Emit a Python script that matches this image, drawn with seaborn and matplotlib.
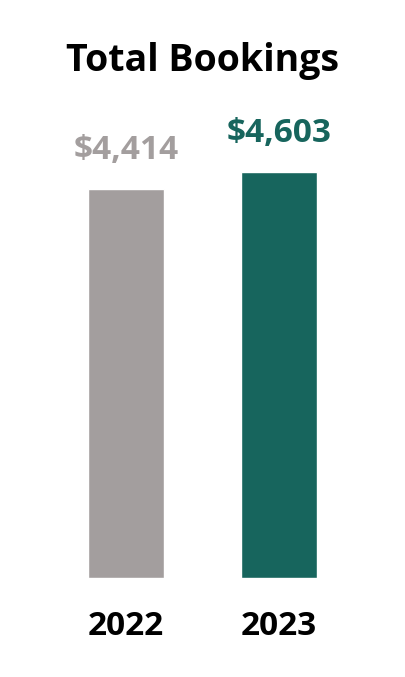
import matplotlib
matplotlib.use("Agg")
import matplotlib.pyplot as plt
import seaborn as sns
import pandas as pd

years = ["2022", "2023"]
bookings = [4414, 4603]
value_labels = ["$4,414", "$4,603"]
colors = ["#A39E9E", "#17655D"]

sns.set_theme(style="white")
plt.rcParams["font.family"] = ["Open Sans", "DejaVu Sans"]

W, H = 405, 677
fig = plt.figure(figsize=(W / 100, H / 100), dpi=100)
# axes in pixel coords: x from 3.6 to 401.4, y bottom at 578, top at 100
ax = fig.add_axes([3.6 / W, (H - 578) / H, (401.4 - 3.6) / W, (578 - 100) / H])

df = pd.DataFrame({"year": years, "bookings": bookings})
sns.barplot(data=df, x="year", y="bookings", hue="year", palette=colors,
            width=0.497, legend=False, ax=ax, saturation=1)

ax.set_xlim(-0.8, 1.8)
ax.set_ylim(0, 4603 * 478 / 406)
for i, (v, lab) in enumerate(zip(bookings, value_labels)):
    ax.annotate(lab, (i, v), xytext=(0, 22), textcoords="offset pixels",
                ha="center", va="bottom", fontsize=24, fontweight="bold",
                color=colors[i])

ax.set_xlabel("")
ax.set_ylabel("")
ax.set_yticks([])
ax.tick_params(axis="x", length=0, pad=23, labelsize=24)
for t in ax.get_xticklabels():
    t.set_fontweight("bold")
    t.set_color("black")
for s in ax.spines.values():
    s.set_visible(False)

fig.text(0.5, (H - 61) / H, "Total Bookings", ha="center", va="center",
         fontsize=27, fontweight="bold", color="black")

fig.savefig("out.png", dpi=100, facecolor="white")
